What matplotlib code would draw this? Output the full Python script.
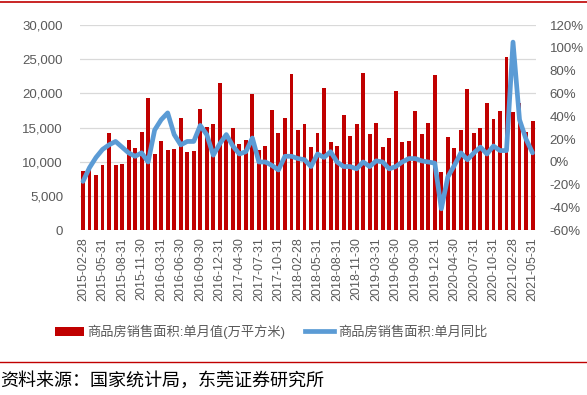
import numpy as np
import matplotlib
matplotlib.use('Agg')
import matplotlib.pyplot as plt
from matplotlib.lines import Line2D
from matplotlib.patches import Patch
from matplotlib.ticker import FuncFormatter

plt.rcParams['font.family'] = ['Liberation Sans', 'Noto Sans CJK SC']

# monthly sales area (10k m2), Feb 2015 - May 2021, Januaries merged into Feb
area = [8740, 9300, 8150, 9600, 14200, 9600, 9750, 13200, 12000, 14350, 19300,
        11230, 13100, 11800, 11950, 16350, 11500, 11650, 17700, 15100, 15500, 21550,
        13800, 15000, 12650, 13250, 19900, 11700, 12300, 17550, 14250, 16400, 22850,
        14700, 15550, 12150, 14200, 20750, 12900, 12400, 16850, 13800, 15550, 23050,
        14150, 15700, 12250, 13500, 20400, 12950, 13100, 17400, 14150, 15700, 22700,
        8500, 13600, 12050, 14700, 20600, 14200, 14950, 18650, 16300, 17500, 25300,
        17350, 18550, 14350, 16050]
# year-on-year change (%)
yoy = [-17, -5, 4, 11, 15, 18, 13, 8, 5, 8, 0,
       28, 37, 43, 24, 15, 18, 18, 32, 24, 6, 16,
       24, 14, 7, 9, 21, 0, 0, -3, -7, 5, 5,
       3, 2, -4, 7, 4, 9, 0, -4, -4, -6, 0,
       -4, 1, 0, -6, -4, 0, 3, 3, 1, 0, -1,
       -41, -13, -3, 8, 2, 8, 13, 7, 14, 10, 10,
       105, 37, 20, 8]
tick_labels = ['2015-02-28', '2015-05-31', '2015-08-31', '2015-11-30', '2016-03-31',
               '2016-06-30', '2016-09-30', '2016-12-31', '2017-04-30', '2017-07-31',
               '2017-10-31', '2018-02-28', '2018-05-31', '2018-08-31', '2018-11-30',
               '2019-03-31', '2019-06-30', '2019-09-30', '2019-12-31', '2020-04-30',
               '2020-07-31', '2020-10-31', '2021-02-28', '2021-05-31']

bar_name = '商品房销售面积:单月值(万平方米)'
line_name = '商品房销售面积:单月同比'
source = '资料来源：国家统计局，东莞证券研究所'

red = '#C00000'
blue = '#5B9BD5'
grey = '#595959'

fig = plt.figure(figsize=(5.87, 3.95), dpi=100)
ax = fig.add_axes([0.1358, 0.4165, 0.777, 0.5202])
x = np.arange(len(area))

ax.bar(x, area, width=0.6, color=red, zorder=2)
ax.set_xlim(-0.5, len(area) - 0.5)
ax.set_ylim(0, 30000)
ax.set_yticks(np.arange(0, 30001, 5000))
ax.yaxis.set_major_formatter(FuncFormatter(lambda v, p: f'{int(v):,}'))
ax.grid(axis='y', color='#D9D9D9', linewidth=0.9, zorder=0)
ax.set_axisbelow(True)
ax.set_xticks(x[::3])
ax.set_xticklabels(tick_labels, rotation=90, fontsize=9, color=grey)
ax.tick_params(axis='both', length=0, colors=grey)
ax.tick_params(axis='y', labelsize=9.5, pad=12)
ax.tick_params(axis='x', pad=5)
for s in ax.spines.values():
    s.set_visible(False)

ax2 = ax.twinx()
ax2.plot(x, yoy, color=blue, linewidth=3.4, solid_joinstyle='round',
         solid_capstyle='round', zorder=3)
ax2.set_ylim(-60, 120)
ax2.set_yticks(np.arange(-60, 121, 20))
ax2.yaxis.set_major_formatter(FuncFormatter(lambda v, p: f'{int(v)}%'))
ax2.tick_params(axis='y', length=0, colors=grey, labelsize=9.5, pad=10)
for s in ax2.spines.values():
    s.set_visible(False)

handles = [Patch(facecolor=red, edgecolor='none'),
           Line2D([0], [0], color=blue, linewidth=3.4)]
fig.legend(handles, [bar_name, line_name], loc='center',
           bbox_to_anchor=(0.462, 0.16), ncol=2, frameon=False,
           fontsize=9.5, handlelength=2.2, handletextpad=0.3,
           columnspacing=1.5, labelcolor=grey)

# red rules and source note
fig.add_artist(Line2D([0, 1], [0.994, 0.994], color=red, linewidth=1.2))
fig.add_artist(Line2D([0, 1], [0.083, 0.083], color=red, linewidth=1.0))
fig.text(0.0, 0.035, source, fontsize=13, color='black',
         family=['Noto Sans CJK SC'], va='center', ha='left')

fig.savefig('out.png', dpi=100)
